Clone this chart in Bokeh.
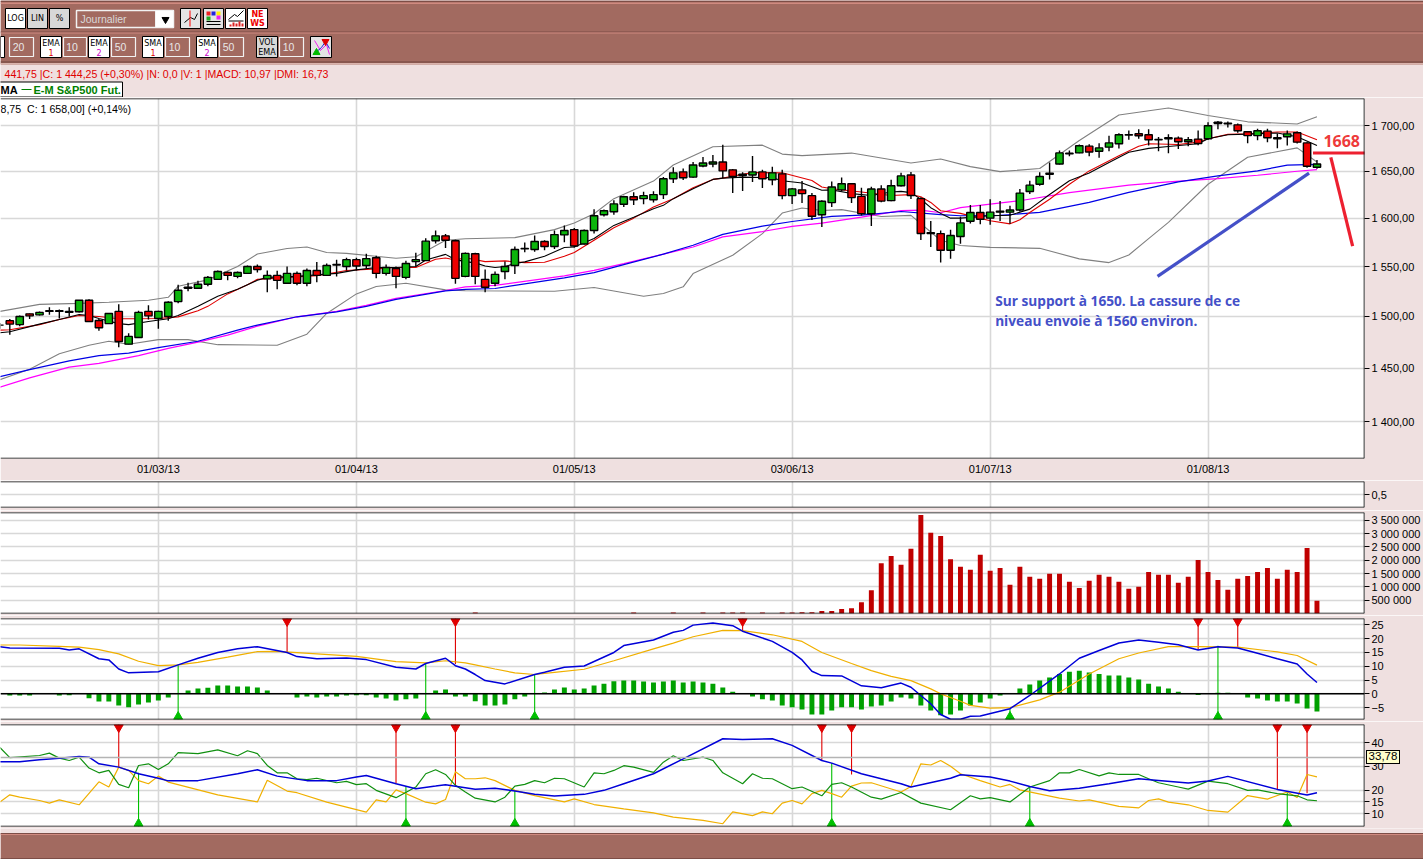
from bokeh.plotting import figure
from bokeh.layouts import column
from bokeh.embed import file_html
from bokeh.resources import INLINE
from bokeh.models import Range1d, FixedTicker, Label, Span, Div
from bokeh.core.properties import value

# ---------- candles: (bar, open, high, low, close)
candles = [
(0,1491.5,1493.5,1488,1491.5),(1,1495.9,1497.5,1482,1492.5),(2,1492,1501,1490.5,1500),(3,1502.6,1503,1497.5,1500.6),
(4,1501.6,1505,1501,1504),(5,1505,1509,1501.6,1505.6),(6,1505,1507,1498,1505.6),(7,1504,1509,1500,1505),
(8,1504.6,1516.4,1504,1516),(9,1516,1517,1495,1495),(10,1496,1497.5,1486,1489),(11,1493,1503,1493,1503),
(12,1505,1512,1470,1475.5),(13,1473,1483.5,1473,1480.5),(14,1479.5,1505.6,1479,1504),(15,1505,1511,1497,1500.6),
(16,1498,1505.6,1488,1505),(17,1500,1515,1495.7,1514),(18,1514.7,1531.5,1513,1526),(19,1528,1533.5,1525,1529),
(20,1528,1535.5,1528,1532),(21,1532,1540.5,1530,1539),(22,1537,1546,1537,1545),(23,1544,1545,1536,1541),
(24,1540,1545,1538,1544),(25,1543,1551,1543,1550),(26,1550,1552,1544,1547),(27,1537.5,1546,1524,1541),
(28,1541,1545.6,1527,1536),(29,1533,1550,1532.5,1543),(30,1543,1545,1531,1533),(31,1533,1548,1530,1546),
(32,1546,1554.6,1534,1541),(33,1541,1553,1541,1551),(34,1551.6,1557,1540,1552),(35,1550,1559,1546,1557),
(36,1557,1559,1546,1550.6),(37,1551,1563,1548,1558),(38,1559,1561,1538,1543),(39,1543,1552,1541,1549),
(40,1548,1550,1528,1540),(41,1539,1556,1537,1553),(42,1555,1564,1550,1557),(43,1556,1579,1556,1576),
(44,1576.5,1587,1573.5,1581.5),(45,1581.5,1583.5,1569,1577),(46,1576.5,1577.5,1532.5,1538),(47,1540,1564.4,1539,1563.4),
(48,1563,1564,1532,1540),(49,1537,1547,1524,1529),(50,1533,1545,1530,1542),(51,1545,1555,1537,1550),
(52,1551,1570.5,1542.5,1567.4),(53,1568,1574.6,1564.6,1568.5),(54,1567.4,1582,1565,1575.6),(55,1575.6,1577,1566.7,1570.5),
(56,1570.5,1587,1568,1582.8),(57,1582.5,1592.4,1575,1587),(58,1588,1589.6,1569.5,1571),(59,1573,1588,1572.5,1587),
(60,1587,1609.3,1584,1602.5),(61,1603.6,1609,1601.8,1607.8),(62,1606.8,1618.8,1603.6,1615),(63,1614.6,1623.8,1611.8,1622.7),
(64,1622.7,1627.3,1613.9,1619.5),(65,1620.6,1628,1614.6,1623.8),(66,1619.5,1628.4,1616.4,1624.9),(67,1624.9,1643.7,1620.3,1641.9),
(68,1641.9,1654.3,1637.3,1648.3),(69,1649.3,1652.9,1640.5,1643),(70,1643.7,1660,1643,1656.8),(71,1655.7,1665.6,1654.3,1658.9),
(72,1657.8,1667.8,1654.3,1660),(73,1660,1679,1642.6,1650.4),(74,1651.5,1652.5,1626.6,1644.4),(75,1646.8,1649,1628.8,1645.4),
(76,1646,1666.7,1638.3,1649.3),(77,1649.3,1651.5,1632,1641.9),(78,1640.8,1655,1634.8,1648.3),(79,1647.2,1651.5,1620,1623.8),
(80,1623.8,1632,1615,1631),(81,1630,1639.4,1616,1626),(82,1623.8,1626.6,1598,1602),(83,1603.6,1618.8,1590.7,1617.8),
(84,1616.4,1639,1611.8,1633),(85,1630,1643.3,1628.8,1636.6),(86,1636.6,1637.3,1616,1621.7),(87,1623,1632.3,1602.9,1604.6),
(88,1604.6,1633.4,1591.7,1630.9),(89,1630.9,1635,1616.7,1618),(90,1618.5,1640.8,1617.8,1634.4),(91,1634.4,1648.3,1633.7,1645),
(92,1646,1649.3,1620.3,1624),(93,1620.6,1622,1577.3,1584),(94,1584.8,1597,1570,1584),(95,1583.8,1587,1554,1566.6),
(96,1566.6,1587.9,1558,1581.8),(97,1580.8,1601.4,1573.3,1595),(98,1596.8,1613.8,1594.5,1606),(99,1606,1613.8,1593.6,1598.9),
(100,1600,1620,1593,1606.3),(101,1606.3,1618,1597,1607.4),(102,1606.3,1613,1594,1608.5),(103,1608.5,1630.8,1607,1626.5),
(104,1628.3,1639.7,1625.5,1635),(105,1636,1648.9,1634.4,1644.4),(106,1646.8,1659.6,1641,1648),(107,1657.8,1672.6,1657.4,1670),
(108,1668.9,1672.6,1666.3,1669.6),(109,1670,1679.2,1669.6,1677.8),(110,1677.4,1679.6,1666.3,1671),(111,1671.8,1680.7,1664.8,1675.5),
(112,1676.3,1688.9,1671.8,1681),(113,1680,1691.8,1674.8,1690),(114,1689.6,1694.8,1684.4,1690),(115,1691.1,1696,1685.5,1688.9),
(116,1690,1696,1678,1684.4),(117,1684.4,1687.4,1671.8,1684.8),(118,1685.5,1690.7,1669.6,1686.7),(119,1686.3,1688,1674.4,1682.2),
(120,1682.2,1687.4,1677.4,1684.4),(121,1685.2,1694.8,1678.5,1680.4),(122,1685.5,1704,1684.4,1700),(123,1702.6,1705.2,1696,1704),
(124,1702.2,1704.8,1698,1703),(125,1701,1702.6,1692.2,1694.4),(126,1693.3,1694,1680.7,1689),(127,1689,1696.7,1684,1694.4),
(128,1694,1696.7,1681.8,1686.7),(129,1685.5,1691,1675.2,1686.7),(130,1687.8,1694.8,1678,1691),(131,1692.2,1693.7,1680.4,1681.8),
(132,1681,1681.8,1653.7,1655.5),(133,1654.4,1662.2,1652.6,1657.8)]

ema_black = [(0,1484),(1,1485),(4,1492.5),(6,1497),(8,1502),(9,1501),(10,1498),(12,1493),(13,1492),(15,1495),(17,1497.7),(18,1501),(20,1510),(22,1520),(24,1527),(26,1536),(27,1539),(30,1540),(34,1543),(36,1546.6),(38,1549),(40,1549),(42,1550),(43,1556.7),(45,1562.4),(46,1557),(47,1555),(48,1553.7),(49,1550.6),(50,1549),(51,1550),(52,1553),(53,1554.7),(55,1560.5),(57,1569.4),(58,1570),(60,1578.7),(62,1592.4),(64,1601),(66,1610),(67,1613.5),(68,1620.6),(70,1631.2),(72,1641.2),(73,1642.6),(75,1643.7),(78,1643),(79,1639.8),(81,1637.3),(83,1629.5),(84,1630),(86,1626),(88,1624),(90,1627.7),(91,1628.4),(92,1627),(93,1620),(94,1611),(95,1605),(96,1600),(97,1600),(100,1602.5),(102,1603),(104,1609.5),(106,1625),(108,1639.7),(110,1648),(112,1659.6),(114,1670.7),(116,1675),(118,1677),(121,1680),(122,1685.5),(124,1690),(126,1690.7),(129,1692),(131,1687.8),(133,1678)]
ema_red = [(0,1486.6),(1,1487),(4,1492),(6,1497),(8,1501),(10,1500),(12,1497.7),(14,1497.7),(16,1498),(18,1499.6),(20,1505.6),(21,1510),(23,1522.4),(25,1531.5),(26,1537),(29,1539),(32,1540.6),(35,1546),(38,1547.6),(40,1549),(42,1549),(44,1557.4),(45,1558.7),(46,1556.7),(47,1559),(49,1555),(51,1555.7),(53,1554),(55,1554.4),(57,1560.5),(58,1564.3),(60,1577),(62,1590),(64,1600),(66,1611.7),(68,1620.6),(70,1632.3),(72,1641.2),(73,1642.6),(76,1648.6),(79,1648.3),(82,1640),(83,1633),(84,1631.2),(87,1627.7),(90,1624),(92,1624.9),(93,1622.7),(94,1616.6),(95,1607.8),(97,1605),(100,1597.3),(102,1594),(103,1598.3),(104,1606),(106,1620),(108,1636),(110,1650.4),(113,1667),(115,1677.4),(116,1680),(119,1679.2),(121,1681.8),(122,1685.5),(124,1690.4),(126,1691),(129,1693),(131,1693),(133,1684.4)]
sma_blue = [(0,1442),(3,1448.6),(7,1457),(10,1462),(13,1464.4),(16,1469.6),(20,1475.8),(24,1486.6),(26,1491.5),(30,1499.7),(34,1504.6),(37,1510),(40,1517),(45,1525.4),(47,1527),(50,1527.8),(52,1531),(57,1538.5),(60,1543.8),(63,1552),(67,1562.6),(70,1571.8),(73,1583),(77,1591.7),(80,1596.5),(84,1601.8),(87,1603.2),(91,1607),(95,1603.6),(97,1602.5),(101,1603),(105,1606),(110,1616.6),(114,1627.3),(119,1638.6),(123,1645),(127,1650.4),(130,1656.7),(133,1657.4)]
sma_magenta = [(0,1432),(3,1440.8),(7,1451),(10,1454.5),(14,1462),(17,1469),(20,1475),(23,1481.7),(26,1490.5),(30,1499.7),(34,1505),(37,1511),(40,1518),(45,1525.8),(47,1529.5),(50,1531),(57,1540.5),(60,1546),(63,1553),(67,1562.6),(70,1570),(73,1580.4),(77,1586),(80,1591.4),(83,1594.8),(87,1601),(91,1608),(93,1608.5),(95,1605.7),(97,1611),(103,1618.4),(108,1627),(114,1635),(118,1638.6),(123,1642),(127,1645.7),(131,1650),(133,1651.8)]
bb_upper = [(0,1505),(4,1512),(8,1513),(11,1514),(15,1516),(17,1519),(18,1530),(21,1536.5),(24,1550),(26,1562.7),(29,1568.4),(31,1570),(33,1564.4),(35,1563.4),(40,1558.4),(42,1560),(45,1577),(47,1578.5),(52,1579.7),(56,1588),(58,1594.8),(60,1604.6),(62,1620.6),(66,1639.4),(68,1656.8),(72,1676.7),(77,1678.5),(79,1668.7),(81,1667),(86,1669.8),(92,1659),(95,1663.3),(98,1655),(101,1649.6),(105,1653),(109,1683.7),(113,1712),(118,1720),(122,1711.5),(126,1704.4),(131,1702),(133,1710)]
bb_lower = [(0,1439),(3,1449),(6,1463.7),(9,1472),(11,1475.8),(13,1472.9),(16,1477.4),(19,1477.4),(22,1472.5),(28,1472),(31,1482.7),(33,1503),(36,1522.4),(38,1529.8),(41,1533),(45,1526.4),(47,1525.5),(56,1525),(60,1528.8),(63,1523.5),(65,1520),(67,1522.8),(69,1529.5),(70,1542.8),(74,1561.5),(77,1583.8),(79,1605.4),(81,1610.7),(83,1608),(85,1609),(89,1601.8),(92,1602.9),(94,1585.5),(95,1577),(97,1571.6),(100,1569.6),(105,1568.6),(109,1557.8),(112,1554),(114,1561.8),(116,1578.7),(118,1595.6),(122,1636),(126,1665.2),(131,1675.5),(133,1660)]

volume = [(48,40000),(64,40000),(68,40000),(71,40000),(73,40000),(74,40000),(75,40000),(77,40000),(79,40000),(80,40000),
(81,50000),(82,50000),(83,90000),(84,90000),(85,165000),(86,200000),(87,425000),(88,875000),(89,1890000),(90,2160000),(91,1830000),(92,2430000),(93,3700000),(94,3030000),(95,2910000),(96,2040000),(97,1750000),(98,1640000),(99,2200000),(100,1600000),(101,1710000),(102,1080000),(103,1750000),(104,1380000),(105,1300000),(106,1490000),(107,1490000),(108,1190000),(109,960000),(110,1230000),(111,1450000),(112,1380000),(113,1190000),(114,930000),(115,1000000),(116,1560000),(117,1450000),(118,1450000),(119,1150000),(120,1380000),(121,2010000),(122,1560000),(123,1260000),(124,890000),(125,1300000),(126,1410000),(127,1560000),(128,1710000),(129,1300000),(130,1640000),(131,1560000),(132,2460000),(133,475000)]

macd_hist = [(1,-.6),(2,-.6),(3,-.6),(6,-.6),(7,-.5),(9,-1.6),(10,-2.8),(11,-2.8),(12,-4.2),(13,-4.9),(14,-3.9),(15,-3.1),(16,-2.4),(17,-1.3),(19,1.2),(20,1.9),(21,2.2),(22,3),(23,3),(24,2.7),(25,2.7),(26,2.3),(27,1.2),(30,-1.3),(31,-1),(32,-1.3),(33,-1),(34,-1),(35,-.6),(36,-.5),(37,-.5),(38,-1.3),(39,-1.7),(40,-2.4),(41,-2),(42,-1.7),(44,1.2),(45,1.6),(46,-1),(47,-1),(48,-2.7),(49,-4.2),(50,-4.2),(51,-3.9),(52,-2),(53,-1),(55,.5),(56,1.6),(57,2.3),(58,1.6),(59,1.9),(60,3),(61,3.7),(62,4.6),(63,4.8),(64,4.8),(65,4.5),(66,4.1),(67,4.5),(68,4.8),(69,4.1),(70,4.5),(71,4.1),(72,3.7),(73,2.3),(74,.8),(76,-1),(77,-2),(78,-2.4),(79,-4.2),(80,-4.9),(81,-5.7),(82,-7.5),(83,-7.5),(84,-6),(85,-4.9),(86,-4.9),(87,-5.7),(88,-4.6),(89,-4.2),(90,-2.8),(91,-1.3),(92,-1.7),(93,-4.2),(94,-6),(95,-7.8),(96,-7.5),(97,-6),(98,-4.2),(99,-3.1),(100,-1.7),(101,-.6),(103,1.9),(104,3.4),(105,4.8),(106,5.9),(107,7.2),(108,8),(109,8.4),(110,7.7),(111,7.2),(112,6.6),(113,6.6),(114,5.9),(115,5.2),(116,3.7),(117,2.7),(118,1.9),(119,.8),(121,-.4),(123,.4),(124,.4),(126,-1.3),(127,-1.7),(128,-2.4),(129,-2.8),(130,-2.8),(131,-3.5),(132,-5.3),(133,-6.4)]
macd_line = [(0,17.1),(1,16.6),(6,16.5),(7,15.9),(8,16.3),(10,12.7),(11,12.3),(12,9),(13,7.6),(16,8),(18,10.5),(20,12.9),(22,15),(24,16.3),(26,17.1),(29,15),(30,13.5),(32,12.7),(35,13),(37,12.4),(40,9.6),(42,9),(43,11),(45,12.9),(46,10.2),(47,9),(48,7),(49,4.8),(51,3.6),(54,7),(55,7.8),(57,9.6),(59,10.1),(62,15),(63,17.5),(66,19.5),(68,22.3),(69,23),(70,24.9),(72,25.7),(74,24.7),(75,22.7),(78,19),(80,15),(81,12.3),(82,8.2),(83,6.6),(85,6.5),(87,2.9),(89,2.2),(91,3.9),(92,2.4),(94,-3.6),(95,-7.5),(96,-9.2),(97,-9.2),(98,-8.1),(99,-8),(102,-5.4),(104,-.6),(107,7.2),(109,12.9),(111,15.7),(113,18.4),(115,19.5),(117,18.7),(119,17.8),(121,15.9),(123,17.1),(125,16.6),(127,14.7),(129,12.7),(131,10.8),(132,7.2),(133,4.1)]
macd_signal = [(0,17.7),(2,17.7),(6,17.2),(8,16.9),(10,16),(12,14.5),(14,11.8),(16,10.2),(18,10.5),(20,11.4),(23,13.3),(26,15.3),(28,15.4),(32,14.5),(36,13.6),(40,11.7),(43,11.2),(45,12),(47,11.2),(48,10.5),(50,9),(52,7.6),(54,7),(56,7.8),(59,8.9),(62,12),(66,16.3),(68,18.4),(70,20.7),(73,23),(75,22.9),(78,21.4),(81,19),(83,15),(86,11),(88,8.4),(90,6.3),(92,4.8),(94,1.8),(95,0),(97,-2.7),(98,-4.2),(100,-5.2),(102,-5),(105,-2.2),(107,.6),(110,7.2),(113,12.7),(115,14.8),(118,17.1),(121,17.1),(125,16.9),(129,15.2),(131,13.9),(133,10.4)]
macd_sell = [(29,15),(46,10.8),(75,22.5),(121,16),(125,16.9)]
macd_buy = [(18,10.5),(43,11),(54,7.2),(102,-5.2),(123,17.4)]

dmi_blue = [(0,32),(2,32),(4,32.8),(6,33.5),(8,34.2),(9,33.9),(10,31.1),(12,29.7),(14,26.9),(16,25),(17,23.9),(20,24),(24,26.9),(26,28.6),(28,25.9),(31,24),(34,24),(36,25.5),(37,26.2),(40,22.7),(42,20.6),(44,21.7),(45,22.3),(48,20.4),(50,20.8),(52,19.6),(54,18.2),(56,17.5),(59,18.2),(61,19.9),(63,22.7),(66,26.9),(69,33.2),(73,41.7),(75,41.4),(78,41.7),(80,38.9),(83,32.5),(84,31.4),(87,26.9),(91,22.7),(92,21.3),(96,25),(97,26.5),(100,25.5),(102,23.8),(104,21.5),(106,19.7),(109,20.8),(112,22.7),(115,24.8),(117,24.1),(120,23),(122,23.8),(124,25.8),(129,20.3),(132,17.9),(133,18.9)]
dmi_green = [(0,38),(1,33.7),(4,34.6),(5,35.6),(6,33.5),(7,32.5),(8,33.9),(9,29.3),(10,27.3),(11,28.3),(12,22.4),(13,21),(14,30.4),(15,31.1),(16,28.7),(17,31.1),(18,35.8),(20,35.4),(22,37),(24,34.5),(25,36.6),(26,35.4),(27,30.4),(28,27.3),(29,27.3),(30,24.8),(31,24.4),(32,25),(34,23.1),(35,23.7),(36,22.3),(37,22.7),(38,19.9),(40,16.8),(42,21.3),(43,26.9),(44,28.6),(45,26.6),(46,22),(47,19.2),(48,16.6),(50,15),(51,17),(52,21.7),(53,22.4),(54,24),(55,23.1),(56,25),(57,24.8),(59,21.3),(60,27.3),(61,26.9),(62,28.3),(63,30.3),(64,29.7),(66,27.5),(67,31.8),(68,34.5),(69,32.5),(71,33.9),(72,32.5),(73,27.3),(75,22.7),(76,26.9),(77,25),(78,24.8),(80,20.6),(81,21.3),(83,17.6),(84,22.4),(85,23.1),(86,21.3),(88,17),(89,16.2),(91,19),(93,14.5),(96,11.7),(98,17.6),(99,16.3),(100,16.8),(102,15),(104,21.3),(106,24),(107,27.3),(108,27.3),(109,28.7),(111,26),(112,27.3),(113,26.6),(115,26.6),(116,24.8),(117,23.1),(119,21.3),(120,20.4),(122,23.8),(124,22.7),(126,19.9),(127,20.1),(129,18.5),(131,17.6),(132,15.9),(133,15.5)]
dmi_orange = [(0,15),(1,18),(2,17),(4,15.6),(5,14.5),(6,15.9),(8,13.8),(10,23.5),(11,21.3),(12,29.7),(13,28.3),(14,24),(15,22.7),(16,25.9),(17,23.4),(22,18),(26,15),(27,24.2),(29,19.6),(30,18.9),(33,14.9),(37,10.7),(38,15.9),(39,15),(40,20.1),(41,18.5),(43,14.9),(44,14.2),(45,16),(46,27.7),(47,24.8),(48,24.8),(49,25.2),(50,24),(52,19.9),(54,17.7),(57,15),(58,16.3),(60,13.9),(63,12.1),(66,10.4),(68,8.6),(71,7.2),(73,5.8),(74,10.8),(76,9.2),(77,10.8),(78,10),(79,14.5),(80,15.6),(81,14.2),(82,18.5),(83,19.9),(84,18.5),(85,17),(86,21.7),(87,23),(88,23.1),(91,19.2),(92,21.5),(93,31.1),(94,30.6),(95,32.5),(96,30.1),(97,26.9),(99,24),(101,21.3),(102,22.4),(103,20.1),(107,16.6),(109,15.4),(110,15.9),(113,13.1),(115,12.5),(116,15.6),(117,16.3),(118,14.9),(120,13.8),(122,11.4),(124,10.7),(126,17.7),(128,16.2),(130,19.2),(131,16.9),(132,26.6),(133,25.6)]
dmi_sell = [(12,29.7),(40,22.7),(46,22),(83,32.5),(86,26.6),(129,20.3),(132,18.7)]
dmi_buy = [(14,27.3),(41,21.5),(52,19.9),(84,31.4),(104,21.5),(130,19.2)]

# ---------- axes
date_ticks = [16, 36, 58, 80, 100, 122]
date_labels = ["01/03/13", "01/04/13", "01/05/13", "03/06/13", "01/07/13", "01/08/13"]
price_ticks = [1400, 1450, 1500, 1550, 1600, 1650, 1700]
price_labels = ["1 400,00", "1 450,00", "1 500,00", "1 550,00", "1 600,00", "1 650,00", "1 700,00"]
vol_ticks = [500000, 1000000, 1500000, 2000000, 2500000, 3000000, 3500000]
vol_labels = ["500 000", "1 000 000", "1 500 000", "2 000 000", "2 500 000", "3 000 000", "3 500 000"]
macd_ticks = [-5, 0, 5, 10, 15, 20, 25]
dmi_last = 33.78
dmi_last_label = "33,78"
dmi_ticks = [10, 15, 20, 30, 40]

W = 1423
RIGHT = 58
PINK = "#efe0e0"
BROWN = "#a26a60"
FONT = "Liberation Sans"
X_START, X_END = 0.06, 137.8
x_range = Range1d(X_START, X_END)


def unzip(pairs):
    return [a for a, _ in pairs], [b for _, b in pairs]


def panel(height, top, bottom, y_range, y_ticks, overrides=None, log=False):
    p = figure(width=W, height=height, x_range=x_range, y_range=y_range, output_backend="svg",
               toolbar_location=None, y_axis_location="right",
               y_axis_type="log" if log else "linear",
               min_border_left=0, min_border_right=RIGHT, min_border_top=top, min_border_bottom=bottom,
               background_fill_color="white", border_fill_color=PINK, outline_line_color=None)
    p.xaxis.ticker = FixedTicker(ticks=date_ticks)
    p.xaxis.visible = False
    p.xgrid.ticker = FixedTicker(ticks=date_ticks)
    p.yaxis.ticker = FixedTicker(ticks=y_ticks)
    p.ygrid.ticker = FixedTicker(ticks=y_ticks)
    for g in (p.xgrid, p.ygrid):
        g.grid_line_color = "#d8d8d8"
        g.grid_line_width = 1.6
    ax = p.yaxis[0]
    ax.axis_line_color = None
    ax.major_tick_in = 0
    ax.major_tick_out = 5
    ax.minor_tick_line_color = None
    ax.major_tick_line_color = "black"
    ax.major_label_standoff = 2
    ax.major_label_text_font = FONT
    ax.major_label_text_font_size = "11px"
    ax.major_label_text_color = "black"
    if overrides:
        ax.major_label_overrides = overrides
    return p


def frame_edges(p):
    # the window crops the panels on the left, so only three edges of each frame are drawn
    p.add_layout(Span(location=p.y_range.start, dimension="width", line_color="black", line_width=1.6, level="overlay"))
    p.add_layout(Span(location=p.y_range.end, dimension="width", line_color="black", line_width=1.6, level="overlay"))
    p.add_layout(Span(location=X_END, dimension="height", line_color="black", line_width=1.6, level="overlay"))


def tline(p, pairs, color, width):
    xs, ys = unzip(pairs)
    p.line(xs, ys, line_color=color, line_width=width)


def signals(p, pairs, edge, color, marker, offset):
    xs, ys = unzip(pairs)
    p.segment(xs, ys, xs, [edge] * len(xs), line_color=color, line_width=1.1)
    p.scatter(xs, [edge + offset] * len(xs), marker=marker, size=9, fill_color=color, line_color=color)


# ---------- top toolbar strip
chrome = figure(width=W, height=97, x_range=(0, W), y_range=(97, 0), output_backend="svg",
                toolbar_location=None, min_border=0, x_axis_location=None, y_axis_location=None,
                outline_line_color=None, background_fill_color=PINK, border_fill_color=PINK, frame_align=False)
chrome.grid.visible = False


def box(x0, x1, y0, y1, fill, line=None, lw=1):
    chrome.quad(left=[x0], right=[x1], top=[y0], bottom=[y1], fill_color=fill,
                line_color=line, line_width=lw)


def txt(x, y, s, color="black", size="8px", font="DejaVu Sans", align="center", style="normal"):
    chrome.text([x], [y], text=[s], text_color=color, text_font_size=size, text_font=value(font),
                text_align=align, text_baseline="middle", text_font_style=style)


box(0, W, 0, 64, BROWN)
box(0, W, 0, 1.5, "#7d4d46")
box(0, W, 2, 3.5, "#d08a80")
box(0, W, 31, 32, "#7d4d46")
box(0, W, 32, 33, "#d08a80")
box(0, W, 61, 62, "#6e443e")
box(0, W, 62.5, 64, "#d9b3ac")

for x0, x1, s, fill in [(5, 25, "LOG", "white"), (27, 47, "LIN", "#d8d8d8"), (49, 69, "%", "#d8d8d8")]:
    box(x0, x1, 8, 28, fill, "black", 1)
    txt((x0 + x1) / 2, 18, s)
box(76, 173, 10, 27, BROWN, "#f2f2f2", 1.5)
box(155, 173, 10, 27, "white", "#f2f2f2", 1)
chrome.scatter([165], [19], marker="inverted_triangle", size=7, fill_color="black", line_color="black")
txt(80, 18.5, "Journalier", "#d9d9d9", "10.5px", FONT, "left")

for x0 in (180, 203, 225, 247):
    box(x0, x0 + 20, 8, 28, "#e4e4e4" if x0 in (180, 203) else "white", "black", 1)
chrome.line([184, 190, 194, 197], [22, 17, 19, 13], line_color="black", line_width=1)
chrome.line([189.5, 189.5], [10, 26], line_color="red", line_width=1)
for x0, y0, c in [(206, 11, "#ee2222"), (211, 11, "#2222dd"), (216, 11, "#ffee00"), (206, 16, "#22aa22"), (216, 15, "#ee22ee")]:
    box(x0, x0 + 4, y0, y0 + 4, c)
box(206, 220, 20.5, 21.5, "black")
box(206, 220, 23.5, 24.5, "black")
chrome.line([228, 234, 237, 243], [19, 14, 16, 10], line_color="black", line_width=1)
box(228, 243, 20, 21, "black")
for i_, h_ in enumerate([2, 4, 3, 5, 3]):
    box(229 + i_ * 3, 231 + i_ * 3, 26 - h_, 26, "#dd2222")
txt(257, 13.5, "NE", "#ee0000", "8px", "DejaVu Sans", style="bold")
txt(257, 22.5, "WS", "#ee0000", "8px", "DejaVu Sans", style="bold")

box(0, 4, 36, 57, "white", "black", 1)
for x0, x1, s in [(9, 33, "20"), (63, 86, "10"), (111, 135, "50"), (165, 189, "10"), (219, 243, "50"), (279, 303, "10")]:
    box(x0, x1, 37, 56, BROWN, "#f2f2f2", 1.2)
    txt((x0 + x1) / 2 - 3, 46, s, "#e8e8e8", "10.5px", FONT)
for x0, s, n, c in [(40, "EMA", "1", "#dd0000"), (88, "EMA", "2", "#cc00cc"), (142, "SMA", "1", "#dd0000"), (196, "SMA", "2", "#cc00cc")]:
    box(x0, x0 + 21, 36, 57, "white", "black", 1)
    txt(x0 + 10.5, 43, s)
    txt(x0 + 10.5, 52, n, c)
box(256, 277, 36, 57, "#d8d8d8", "black", 1)
txt(266.5, 42, "VOL")
txt(266.5, 51.5, "EMA")
box(310, 331, 36, 57, "#e4e4e4", "black", 1)
chrome.line([314, 320, 326, 329], [40, 50, 44, 54], line_color="#ee22ee", line_width=1)
chrome.line([314, 321, 325, 329], [53, 47, 41, 48], line_color="#2222dd", line_width=1)
chrome.scatter([325], [41], marker="inverted_triangle", size=7, fill_color="#dd0000", line_color="#dd0000")
chrome.scatter([316], [52], marker="triangle", size=7, fill_color="#00bb00", line_color="#00bb00")

txt(4, 73, "441,75 |C: 1 444,25 (+0,30%) |N: 0,0 |V: 1 |MACD: 10,97 |DMI: 16,73", "#e00000", "10.6px", FONT, "left")
box(-2, 122, 81.5, 96.5, "white", "black", 1)
txt(0, 89.5, "MA", "black", "11px", FONT, "left", "bold")
box(21, 31, 88.5, 89.5, "#008000")
txt(33, 89.5, "E-M S&P500 Fut.", "#008000", "11px", FONT, "left", "bold")

# ---------- price panel
price = panel(383, 1, 22, Range1d(1366.5, 1730.7), price_ticks, dict(zip(price_ticks, price_labels)), log=True)
price.xaxis.visible = True
ax = price.xaxis[0]
ax.axis_line_color = None
ax.major_tick_line_color = None
ax.major_tick_out = 0
ax.major_tick_in = 0
ax.minor_tick_line_color = None
ax.major_label_overrides = dict(zip(date_ticks, date_labels))
ax.major_label_text_font = FONT
ax.major_label_text_font_size = "11px"
ax.major_label_text_color = "black"
ax.major_label_standoff = 4

tline(price, bb_upper, "#808080", 1.1)
tline(price, bb_lower, "#808080", 1.1)
tline(price, sma_magenta, "#ff00ff", 1.2)
tline(price, sma_blue, "#0000e6", 1.2)
tline(price, ema_red, "#e00000", 1.1)
tline(price, ema_black, "black", 1.1)

ci = [c[0] for c in candles]
co = [c[1] for c in candles]
ch = [c[2] for c in candles]
cl = [c[3] for c in candles]
cc = [c[4] for c in candles]
price.segment(ci, cl, ci, ch, line_color="black", line_width=1.4)
price.vbar(x=ci, width=0.74, bottom=co, top=cc,
           fill_color=["#0cb50c" if c >= o else "#ee0000" for o, c in zip(co, cc)],
           line_color="black", line_width=1.4)

trend_up_i, trend_up_v = [116.9, 132.2], [1540, 1648]
target_i, target_v = [134.4, 136.6], [1665.2, 1571]
level_i, level_v = [132.6, 138.2], [1670, 1670]
price.line(trend_up_i, trend_up_v, line_color="#4450c8", line_width=3.2)
price.line(target_i, target_v, line_color="#ed2030", line_width=3.2)
price.line(level_i, level_v, line_color="#ed2030", line_width=3)
for xv, yv, s, col, size, font, align in [
    (135.5, 1682.6, "1668", "#ee3a3a", "16px", "Open Sans", "center"),
    (100.5, 1515.8, "Sur support à 1650. La cassure de ce", "#4450c8", "13.7px", "Open Sans", "left"),
    (100.5, 1496.0, "niveau envoie à 1560 environ.", "#4450c8", "13.7px", "Open Sans", "left"),
]:
    price.add_layout(Label(x=xv, y=yv, text=s, text_color=col, text_font_size=size, text_font=font,
                           text_font_style="bold", text_align=align, text_baseline="middle"))
price.add_layout(Label(x=X_START, y=1719, text="8,75\u00a0\u00a0C: 1 658,00] (+0,14%)", text_color="black",
                       text_font_size="10.6px", text_font=FONT, text_baseline="middle"))
frame_edges(price)

# ---------- empty panel
empty = panel(30, 1, 3, Range1d(0, 1), [0.5], {0.5: "0,5"})
frame_edges(empty)

# ---------- volume
vol = panel(105, 2, 2, Range1d(0, 3790000), vol_ticks, dict(zip(vol_ticks, vol_labels)))
vx, vy = unzip(volume)
vol.vbar(x=vx, width=0.5, bottom=0, top=vy, fill_color="#c00000", line_color=None)
frame_edges(vol)

# ---------- MACD
macd_top, macd_bottom = 27.3, -9.3
macd = panel(106, 3, 2, Range1d(macd_bottom, macd_top), macd_ticks)
hx, hy = unzip(macd_hist)
macd.vbar(x=hx, width=0.5, bottom=0, top=hy, fill_color="#00a000", line_color=None)
macd.add_layout(Span(location=0, dimension="width", line_color="black", line_width=1.5))
signals(macd, macd_sell, macd_top, "#e00000", "inverted_triangle", -1.0)
signals(macd, macd_buy, macd_bottom, "#00c000", "triangle", 1.0)
tline(macd, macd_signal, "#f0b000", 1.2)
tline(macd, macd_line, "#0000d8", 1.5)
frame_edges(macd)

# ---------- DMI
dmi_top, dmi_bottom = 47.7, 4.63
dmi = panel(107, 3, 2, Range1d(dmi_bottom, dmi_top), dmi_ticks)
dmi.add_layout(Span(location=dmi_last, dimension="width", line_color="#b4b4b4", line_width=1.5))
signals(dmi, dmi_sell, dmi_top, "#e00000", "inverted_triangle", -1.2)
signals(dmi, dmi_buy, dmi_bottom, "#00c000", "triangle", 1.2)
tline(dmi, dmi_orange, "#f0b000", 1.2)
tline(dmi, dmi_green, "#109010", 1.2)
tline(dmi, dmi_blue, "#0000d8", 1.5)
frame_edges(dmi)

# value tag that overlaps the axis of the DMI panel
dmi_tag = Div(text=dmi_last_label, width=34, height=14, margin=0,
              styles={"position": "absolute", "left": "1366px", "top": "750px", "z-index": "5",
                      "background": "#ffffcc", "border": "1.5px solid black", "box-sizing": "border-box",
                      "font-family": FONT, "font-size": "11.5px", "line-height": "11px", "text-align": "center",
                      "color": "black"})

# ---------- bottom strip
foot = figure(width=W, height=31, x_range=(0, W), y_range=(31, 0), output_backend="svg", toolbar_location=None,
              min_border=0, x_axis_location=None, y_axis_location=None, outline_line_color=None,
              background_fill_color=PINK, border_fill_color=PINK, frame_align=False)
foot.grid.visible = False
foot.quad(left=[0], right=[W], top=[4.5], bottom=[31], fill_color=BROWN, line_color=None)
foot.quad(left=[0], right=[W], top=[4.5], bottom=[5.5], fill_color="#7d4d46", line_color=None)
foot.quad(left=[0], right=[W], top=[5.5], bottom=[6.5], fill_color="#d08a80", line_color=None)
foot.quad(left=[0], right=[W], top=[29.5], bottom=[31], fill_color="#7d4d46", line_color=None)

page = column(chrome, price, empty, vol, macd, dmi, foot, dmi_tag, spacing=0)
open("out.html", "w").write(file_html(page, INLINE))
